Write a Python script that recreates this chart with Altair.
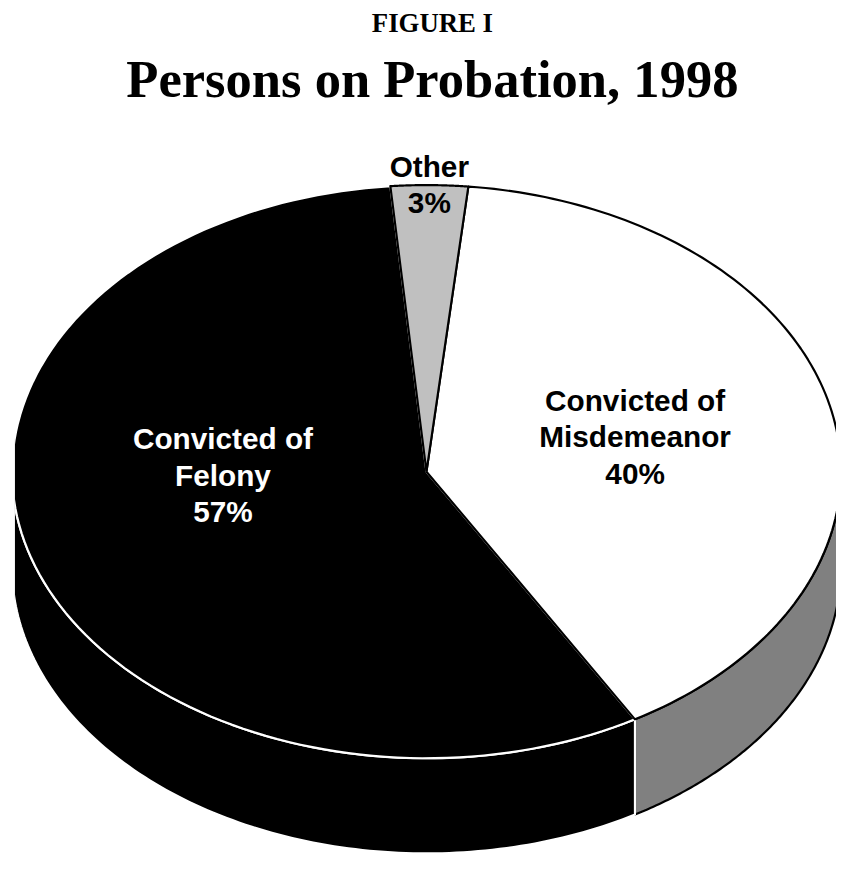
import altair as alt
import pandas as pd

# ---- data ----
categories = ["Other", "Convicted of Misdemeanor", "Convicted of Felony"]
values = [3, 40, 57]
slice_order = [0, 1, 2]

df = pd.DataFrame({"category": categories, "value": values, "order": slice_order})

# ---- geometry of the tilted pie (page pixel units) ----
CX, CY, A, B, D = 430, 472, 418, 289, 96
START = -5.0
N = 120
LH = 37  # label line height

xs = alt.X("px:Q", scale=alt.Scale(domain=[15, 843], zero=False, nice=False), axis=None)
ys = alt.Y("py:Q", scale=alt.Scale(domain=[858, 168], zero=False, nice=False), axis=None)

base = (
    alt.Chart(df)
    .transform_window(cum="sum(value)", sort=[alt.SortField("order")], frame=[None, 0])
    .transform_joinaggregate(total="sum(value)")
    .transform_calculate(t0=f"{START} + 360*(datum.cum - datum.value)/datum.total")
    .transform_calculate(t1=f"{START} + 360*datum.cum/datum.total")
)

# top faces
top = (
    base.transform_calculate(seq=f"sequence(-1, {N + 2})")
    .transform_flatten(["seq"], as_=["i"])
    .transform_calculate(ang=f"(datum.t0 + (datum.t1 - datum.t0)*clamp(datum.i, 0, {N})/{N})*PI/180")
    .transform_calculate(px=f"(datum.i < 0 || datum.i > {N}) ? {CX} : {CX} + {A}*sin(datum.ang)")
    .transform_calculate(py=f"(datum.i < 0 || datum.i > {N}) ? {CY} : {CY} - {B}*cos(datum.ang)")
)

# visible side walls (front half of the pie)
side = (
    base.transform_calculate(s0="max(datum.t0, 90)")
    .transform_calculate(s1="min(datum.t1, 270)")
    .transform_filter("datum.s1 > datum.s0")
    .transform_calculate(seq=f"sequence(0, {2 * N + 3})")
    .transform_flatten(["seq"], as_=["i"])
    .transform_calculate(
        ang=f"(datum.i <= {N} ? datum.s0 + (datum.s1 - datum.s0)*datum.i/{N} : "
            f"(datum.i <= {2 * N + 1} ? datum.s1 - (datum.s1 - datum.s0)*(datum.i - {N + 1})/{N} : datum.s0))*PI/180"
    )
    .transform_calculate(off=f"(datum.i > {N} && datum.i <= {2 * N + 1}) ? {D} : 0")
    .transform_calculate(px=f"{CX} + {A}*sin(datum.ang)")
    .transform_calculate(py=f"{CY} - {B}*cos(datum.ang) + datum.off")
)

enc = dict(x=xs, y=ys, detail=alt.Detail("category:N"), order=alt.Order("i:Q"))


def face(src, cat, fill, stroke):
    return (
        src.transform_filter(alt.datum.category == cat)
        .mark_line(fill=fill, stroke=stroke, strokeWidth=2.2, strokeJoin="round", clip=True)
        .encode(**enc)
    )


layers = [
    face(side, "Convicted of Misdemeanor", "#808080", "black"),
    face(side, "Convicted of Felony", "black", "white"),
    face(top, "Convicted of Felony", "black", "white"),
    face(top, "Convicted of Misdemeanor", "white", "black"),
    face(top, "Other", "#c0c0c0", "black"),
]

labels = (
    base.transform_calculate(mid="(datum.t0 + datum.t1)/2*PI/180")
    .transform_calculate(label="replace(datum.category, 'of ', 'of|') + '|' + datum.value + '%'")
    .transform_calculate(nl="length(split(datum.label, '|'))")
    .transform_calculate(k="datum.category == 'Other' ? 0.99 : 0.515")
    .transform_calculate(ldy="datum.category == 'Convicted of Felony' ? -40 : -2")
    .transform_calculate(px=f"{CX} + {A}*datum.k*sin(datum.mid)")
    .transform_calculate(py=f"{CY} - {B}*datum.k*cos(datum.mid) + datum.ldy - (datum.nl - 1)*{LH}/2")
    .mark_text(font="Liberation Sans", fontSize=30, fontWeight="bold", lineBreak="|",
               lineHeight=LH, align="center", baseline="middle")
    .encode(
        x=xs, y=ys, text="label:N",
        color=alt.Color("category:N", scale=alt.Scale(domain=categories, range=["black", "black", "white"]), legend=None),
    )
)

chart = (
    alt.layer(*layers, labels)
    .properties(
        width=828,
        height=690,
        padding={"left": 7, "top": 160, "right": 0, "bottom": 0},
        autosize=alt.AutoSizeParams(type="none"),
        background="white",
        title=alt.TitleParams(
            text="FIGURE I",
            subtitle="Persons on Probation, 1998",
            font="Liberation Serif", fontSize=27, fontWeight="bold", color="black",
            subtitleFont="Liberation Serif", subtitleFontSize=53, subtitleFontWeight="bold",
            subtitleColor="black", subtitlePadding=18, anchor="middle", offset=44, dx=7,
        ),
    )
    .configure_view(stroke=None)
)

chart.save("out.html", embed_options={"renderer": "svg", "actions": False})
